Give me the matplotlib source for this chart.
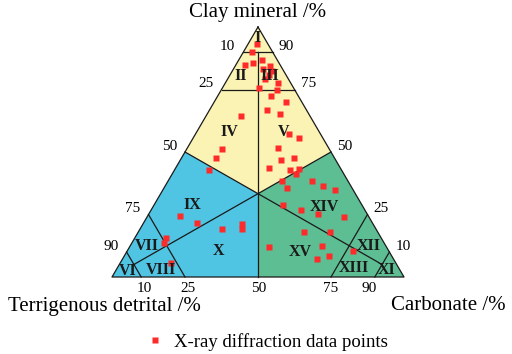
import numpy as np
import matplotlib.pyplot as plt
from matplotlib.patches import Polygon

clay = [93.4, 90.0, 86.8, 85.7, 84.8, 84.4, 83.1, 82.4, 81.0, 79.1,
        77.7, 75.8, 74.7, 72.4, 70.1, 66.8, 65.2, 64.3, 57.2, 55.5,
        51.3, 51.7, 47.6, 46.9, 47.5, 43.7, 42.7, 42.7, 43.4, 41.3,
        38.5, 38.4, 36.4, 35.5, 34.7, 28.8, 26.8, 25.3, 23.9, 18.1,
        18.1, 12.1, 12.4, 10.4, 8.5, 7.3, 24.5, 21.5, 19.1, 21.1,
        19.1, 15.5, 13.7, 5.8]
carb = [3.1, 3.1, 8.0, 5.5, 3.3, 11.9, 10.2, 13.6, 13.4, 12.9,
        17.9, 12.3, 19.0, 18.1, 24.5, 19.8, 24.9, 11.9, 31.9, 36.2,
        12.1, 30.9, 11.9, 34.4, 38.5, 32.0, 11.8, 39.6, 42.2, 42.3,
        39.0, 49.2, 54.2, 42.3, 59.1, 44.1, 51.3, 58.0, 67.6, 56.7,
        65.6, 47.7, 65.8, 77.2, 70.0, 66.4, 11.0, 18.3, 28.2, 33.8,
        34.8, 10.8, 10.9, 17.2]

# etiquetas de las zonas (arcilla %, carbonato %)
zonas = ['I', 'II', 'III', 'IV', 'V', 'VI', 'VII', 'VIII', 'IX', 'X',
         'XI', 'XII', 'XIII', 'XIV', 'XV']
zonas_clay = [95.5, 80.4, 80.4, 58.0, 58.0, 2.5, 12.5, 2.8, 28.8, 10.5,
              2.8, 12.5, 3.7, 28.1, 10.1]
zonas_carb = [2.1, 4.0, 13.9, 11.2, 29.6, 4.1, 5.6, 15.4, 13.2, 31.1,
              92.7, 81.5, 81.1, 58.8, 59.3]

ticks = [10, 25, 50, 75, 90]
# pequeños desplazamientos de las etiquetas de la base (pixeles)
base_dx = [3, 3, 1, 0, -6]


def xy(c, k):
    # arcilla arriba, carbonato a la derecha
    c = np.asarray(c, dtype=float)
    k = np.asarray(k, dtype=float)
    return k + c / 2, c


plt.rcParams['font.family'] = ['Liberation Serif', 'DejaVu Serif']

fig = plt.figure(figsize=(5.12, 3.54), dpi=100)
ax = fig.add_axes([112 / 512, 77 / 354, 292 / 512, 250 / 354])
ax.set_xlim(0, 100)
ax.set_ylim(0, 100)
ax.axis('off')

c3 = 100 / 3
amarillo = [(50, 0), (100, 0), (50, 50), (c3, c3)]
azul = [(50, 0), (c3, c3), (0, 50), (0, 0)]
verde = [(c3, c3), (50, 50), (0, 100), (0, 50)]
for poly, col in [(amarillo, '#FBF3B4'), (azul, '#50C4E3'), (verde, '#5DBD93')]:
    px, py = xy([p[0] for p in poly], [p[1] for p in poly])
    ax.add_patch(Polygon(np.column_stack([px, py]), closed=True,
                         facecolor=col, edgecolor='none', zorder=1))

lineas = [
    [(100, 0), (0, 0), (0, 100), (100, 0)],
    [(90, 0), (90, 10)],
    [(75, 0), (75, 25)],
    [(90, 5), (0, 50)],
    [(50, 0), (c3, c3), (50, 50)],
    [(25, 0), (0, 25)],
    [(10, 0), (0, 10)],
    [(25, 75), (0, 75)],
    [(10, 90), (0, 90)],
    [(c3, c3), (5, 5)],
    [(c3, c3), (5, 90)],
]
for ln in lineas:
    px, py = xy([p[0] for p in ln], [p[1] for p in ln])
    ax.plot(px, py, color='#1a1a1a', lw=0.9, zorder=2, clip_on=False)

px, py = xy(clay, carb)
ax.plot(px, py, 's', color='#FF2A2A', ms=4.5, mec='none', zorder=4,
        clip_on=False, label='X-ray diffraction data points')

for z, c, k in zip(zonas, zonas_clay, zonas_carb):
    zx, zy = xy(c, k)
    ax.text(zx, zy, z, ha='center', va='center', fontsize=11.5,
            fontweight='bold', color='#1a1a1a', zorder=5)

# escalas de los lados
for t, dx in zip(ticks, base_dx):
    # lado izquierdo
    lx, ly = xy(100 - t, 0)
    ax.annotate(str(t), (lx, ly), xytext=(-8, 6), textcoords='offset pixels',
                ha='right', va='center', fontsize=11)
    # lado derecho
    rx, ry = xy(t, 100 - t)
    ax.annotate(str(t), (rx, ry), xytext=(6, 6), textcoords='offset pixels',
                ha='left', va='center', fontsize=11)
    # base
    bx, by = xy(0, t)
    ax.annotate(str(t), (bx, by), xytext=(dx, -12), textcoords='offset pixels',
                ha='center', va='center', fontsize=11)

fig.text(258 / 512, 1 - 13 / 354, 'Clay mineral /%', ha='center', va='center',
         fontsize=15)
fig.text(8 / 512, 1 - 307 / 354, 'Terrigenous detrital /%', ha='left',
         va='center', fontsize=15)
fig.text(506 / 512, 1 - 306 / 354, 'Carbonate /%', ha='right', va='center',
         fontsize=15)

fig.legend(loc='center', bbox_to_anchor=(267 / 512, 1 - 342 / 354),
           frameon=False, fontsize=13.5, handlelength=1, handletextpad=0.5,
           borderpad=0)

fig.savefig('out.png', dpi=100)
